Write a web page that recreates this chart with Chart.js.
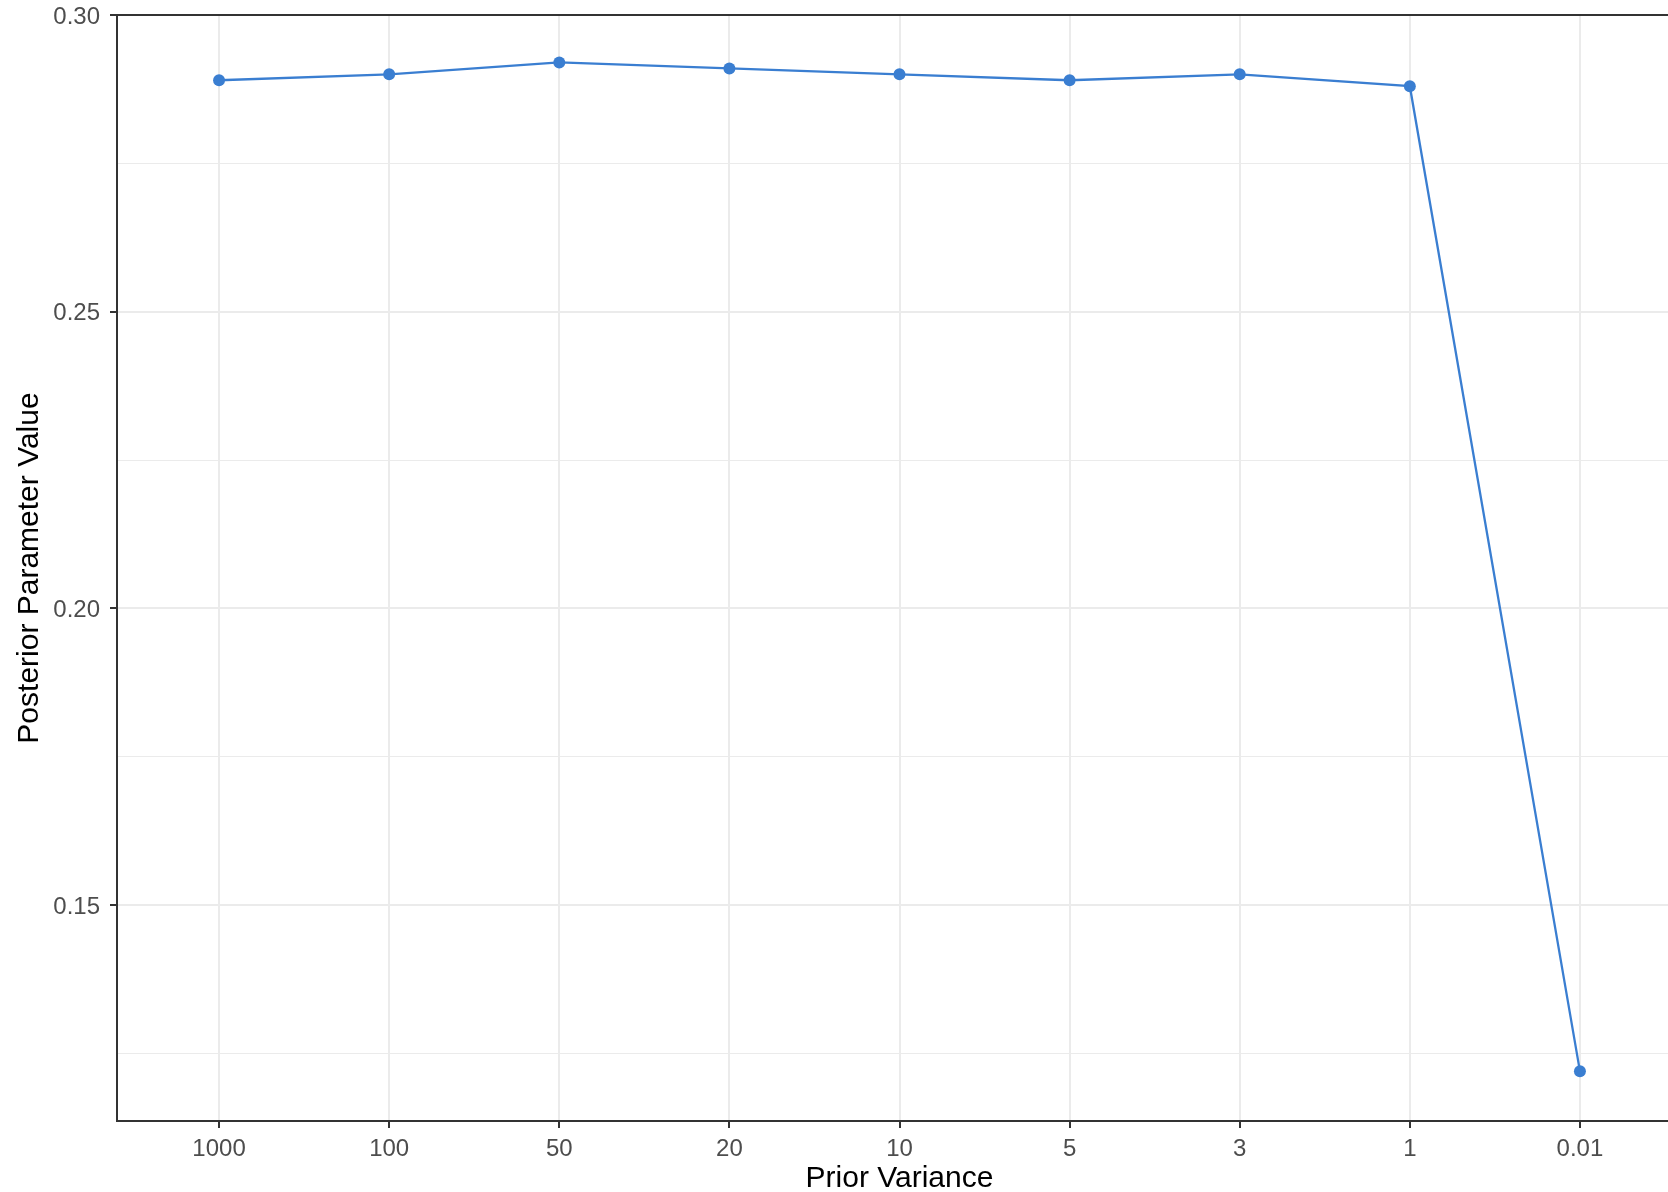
<!DOCTYPE html>
<html>
<head>
<meta charset="utf-8">
<script src="https://cdn.jsdelivr.net/npm/chart.js@4/dist/chart.umd.min.js"></script>
<style>
  html, body { margin: 0; padding: 0; background: #ffffff; overflow: hidden; width: 1668px; height: 1192px; }
  canvas { display: block; }
</style>
</head>
<body>
<canvas id="c" width="1688" height="1192" style="width:1688px;height:1192px"></canvas>
<script>
// ---- Data ----
const categories = ['1000', '100', '50', '20', '10', '5', '3', '1', '0.01'];
const posteriorValues = [0.289, 0.290, 0.292, 0.291, 0.290, 0.289, 0.290, 0.288, 0.122];
const yMajorTicks = [0.15, 0.20, 0.25, 0.30];
const yMinorTicks = [0.125, 0.175, 0.225, 0.275];
const xTitle = 'Prior Variance';
const yTitle = 'Posterior Parameter Value';

// ---- Styling ----
const lineColor = '#3A7ED1';
const axisColor = '#333333';
const gridColor = '#EBEBEB';
const tickLabelColor = '#4D4D4D';
const fontFamily = '"Liberation Sans", Arial, Helvetica, sans-serif';

const points = posteriorValues.map((v, i) => ({ x: i, y: v }));
const isMajor = v => yMajorTicks.some(m => Math.abs(m - v) < 1e-9);

const topBorder = {
  id: 'topBorder',
  afterDraw(chart) {
    const { ctx, chartArea } = chart;
    ctx.save();
    ctx.strokeStyle = axisColor;
    ctx.lineWidth = 2;
    ctx.beginPath();
    ctx.moveTo(chartArea.left - 1, chartArea.top);
    ctx.lineTo(chartArea.right + 1, chartArea.top);
    ctx.lineTo(chartArea.right + 1, chartArea.bottom);
    ctx.stroke();
    ctx.restore();
  }
};

new Chart(document.getElementById('c'), {
  type: 'line',
  data: {
    datasets: [{
      data: points,
      borderColor: lineColor,
      backgroundColor: lineColor,
      borderWidth: 2.3,
      pointRadius: 6,
      pointBorderWidth: 0,
      pointBackgroundColor: lineColor,
      tension: 0,
      fill: false,
      clip: false
    }]
  },
  options: {
    responsive: false,
    animation: false,
    devicePixelRatio: 1,
    layout: { padding: { left: 0, top: 15, right: 0, bottom: 0 } },
    plugins: {
      legend: { display: false },
      tooltip: { enabled: false },
      title: { display: false }
    },
    scales: {
      x: {
        type: 'linear',
        min: -0.6,
        max: 8.6,
        afterBuildTicks: s => { s.ticks = categories.map((c, i) => ({ value: i })); },
        afterFit: s => { s.height = 71; s.paddingLeft = 0; s.paddingRight = 0; },
        ticks: {
          autoSkip: false,
          maxRotation: 0,
          padding: 7,
          color: tickLabelColor,
          font: { family: fontFamily, size: 24 },
          callback: v => categories[Math.round(v)]
        },
        grid: {
          color: gridColor,
          lineWidth: 2,
          drawTicks: true,
          tickLength: 7,
          tickColor: axisColor,
          tickWidth: 2
        },
        border: { display: true, color: axisColor, width: 2 },
        title: {
          display: true,
          text: xTitle,
          color: '#000000',
          font: { family: fontFamily, size: 30, lineHeight: 1 },
          padding: { top: 0, bottom: -2 }
        }
      },
      y: {
        type: 'linear',
        min: 0.1136,
        max: 0.300,
        afterBuildTicks: s => {
          s.ticks = yMinorTicks.concat(yMajorTicks).sort((a, b) => a - b).map(v => ({ value: v }));
        },
        afterFit: s => { s.width = 117; s.paddingTop = 0; s.paddingBottom = 0; },
        ticks: {
          padding: 10,
          labelOffset: 2,
          color: tickLabelColor,
          font: { family: fontFamily, size: 24 },
          callback: v => isMajor(v) ? v.toFixed(2) : ''
        },
        grid: {
          color: gridColor,
          lineWidth: ctx => (ctx.tick && isMajor(ctx.tick.value)) ? 2 : 1,
          drawTicks: true,
          tickLength: 7,
          tickWidth: 2,
          tickColor: ctx => (ctx.tick && isMajor(ctx.tick.value)) ? axisColor : 'rgba(0,0,0,0)'
        },
        border: { display: true, color: axisColor, width: 2 },
        title: {
          display: true,
          text: yTitle,
          color: '#000000',
          font: { family: fontFamily, size: 30, lineHeight: 1 },
          padding: { top: 15, bottom: 0 }
        }
      }
    }
  },
  plugins: [topBorder]
});
</script>
</body>
</html>
